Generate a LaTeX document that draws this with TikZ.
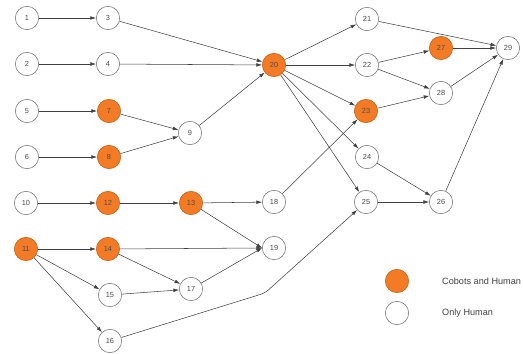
\documentclass[tikz,border=0pt]{standalone}
\usepackage{fontspec}
\setmainfont{Liberation Sans}
\usetikzlibrary{arrows.meta}

\definecolor{cobot}{RGB}{244,123,38}
\definecolor{rim}{RGB}{120,120,120}

\begin{document}
\begin{tikzpicture}[
        x=0.03cm, y=-0.03cm,
        human/.style={circle, draw=rim, fill=white, line width=0.5pt, minimum size=0.7cm, inner sep=0pt, font=\fontsize{6.3}{7}\selectfont, text=black!70},
        cobot/.style={human, fill=cobot, draw=cobot!80!black},
        arrow/.style={-{Latex[length=1.7mm, width=1.1mm]}, draw=black!75, line width=0.45pt},
        legend/.style={anchor=west, inner sep=0pt, font=\fontsize{7.8}{9}\selectfont, text=black!75}
    ]
        \useasboundingbox (0,0) rectangle (523,353);

        % first column
        \node[human] (n1) at (27,18) {1};
        \node[human] (n2) at (27,64) {2};
        \node[human] (n5) at (27,111) {5};
        \node[human] (n6) at (27,157) {6};
        \node[human] (n10) at (26,203) {10};
        \node[cobot] (n11) at (26,249) {11};

        % second column
        \node[human] (n3) at (108,18) {3};
        \node[human] (n4) at (108,64) {4};
        \node[cobot] (n7) at (109,111) {7};
        \node[cobot] (n8) at (109,157) {8};
        \node[cobot] (n12) at (108,203) {12};
        \node[cobot] (n14) at (108,249) {14};
        \node[human] (n15) at (110,295) {15};
        \node[human] (n16) at (110,341) {16};

        % middle
        \node[human] (n9) at (190,133) {9};
        \node[cobot] (n13) at (191,203) {13};
        \node[human] (n17) at (191,289) {17};
        \node[cobot] (n20) at (274,65) {20};
        \node[human] (n18) at (274,202) {18};
        \node[human] (n19) at (274,248) {19};

        % right part
        \node[human] (n21) at (367,19) {21};
        \node[human] (n22) at (367,65) {22};
        \node[cobot] (n23) at (366,111) {23};
        \node[human] (n24) at (367,157) {24};
        \node[human] (n25) at (366,202) {25};
        \node[cobot] (n27) at (441,48) {27};
        \node[human] (n28) at (441,93) {28};
        \node[human] (n26) at (441,202) {26};
        \node[human] (n29) at (508,48) {29};

        \coordinate (bend) at (265,293);

        \draw[arrow] (n1) -- (n3);
        \draw[arrow] (n2) -- (n4);
        \draw[arrow] (n5) -- (n7);
        \draw[arrow] (n6) -- (n8);
        \draw[arrow] (n7) -- (n9);
        \draw[arrow] (n8) -- (n9);
        \draw[arrow] (n3) -- (n20);
        \draw[arrow] (n4) -- (n20);
        \draw[arrow] (n9) -- (n20);

        \draw[arrow] (n10) -- (n12);
        \draw[arrow] (n12) -- (n13);
        \draw[arrow] (n13) -- (n18);
        \draw[arrow] (n13) -- (n19.west);
        \draw[arrow] (n11) -- (n14);
        \draw[arrow] (n11) -- (n15);
        \draw[arrow] (n11) -- (n16);
        \draw[arrow] (n14) -- (n19.west);
        \draw[arrow] (n14) -- (n17);
        \draw[arrow] (n15) -- (n17);
        \draw[arrow] (n17) -- (n19.west);
        \draw[arrow, rounded corners=4pt] (n16) -- (bend) -- (n25);
        \draw[arrow] (n18) -- (n23);

        \draw[arrow] (n20) -- (n21);
        \draw[arrow] (n20) -- (n22);
        \draw[arrow] (n20) -- (n23);
        \draw[arrow] (n20) -- (n24);
        \draw[arrow] (n20) -- (n25);
        \draw[arrow] (n21) -- (n29);
        \draw[arrow] (n22) -- (n27);
        \draw[arrow] (n22) -- (n28);
        \draw[arrow] (n23) -- (n28);
        \draw[arrow] (n27) -- (n29);
        \draw[arrow] (n28) -- (n29);
        \draw[arrow] (n24) -- (n26);
        \draw[arrow] (n25) -- (n26);
        \draw[arrow] (n26) -- (n29);

        % legend
        \node[cobot] (keycobot) at (397,281) {};
        \node[human] (keyhuman) at (397,313) {};
        \node[legend] (txtcobot) at (442,281) {Cobots and Human};
        \node[legend] (txthuman) at (442,313) {Only Human};

    \end{tikzpicture}
\end{document}
